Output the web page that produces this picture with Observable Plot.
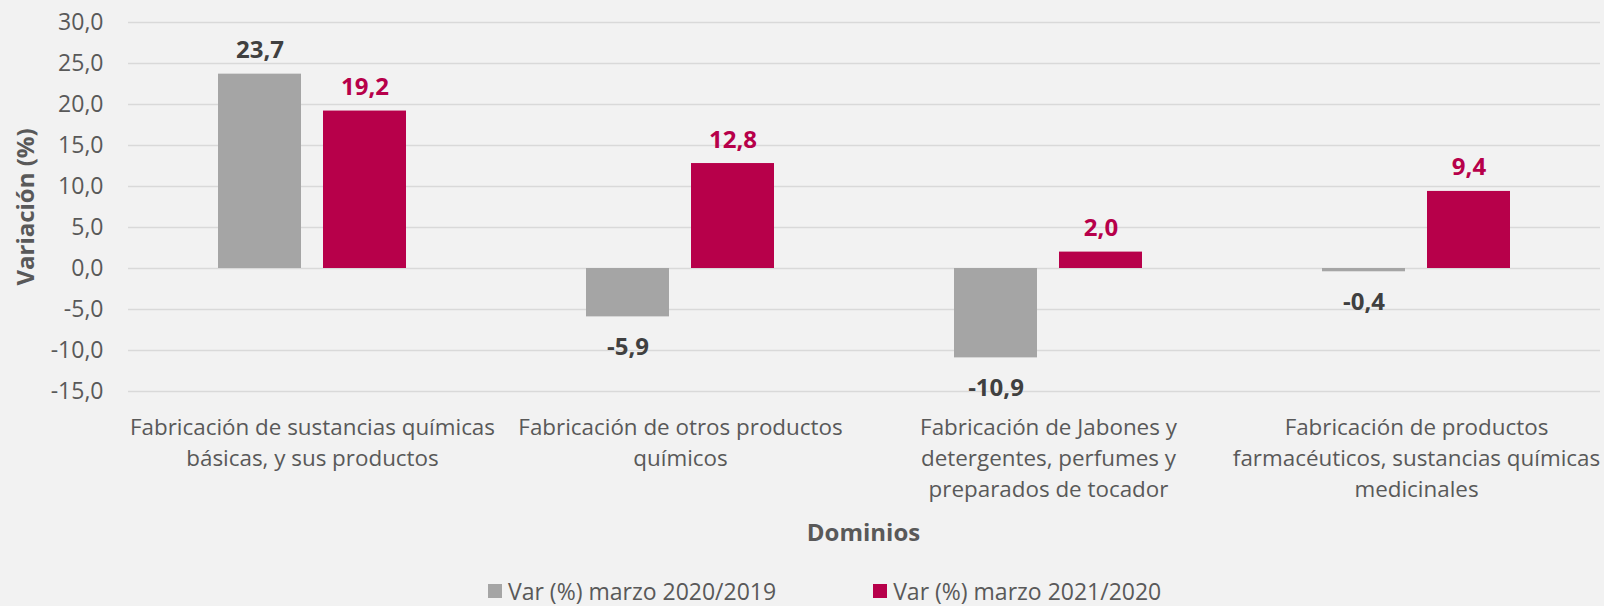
<!DOCTYPE html>
<html>
<head>
<meta charset="utf-8">
<script src="https://cdn.jsdelivr.net/npm/d3@7"></script>
<script src="https://cdn.jsdelivr.net/npm/@observablehq/plot@0.6"></script>
<style>
  html, body { margin: 0; padding: 0; background: #F2F2F2; }
  #wrap { position: relative; width: 1604px; height: 606px; overflow: hidden; font-family: "Open Sans", sans-serif; }
  #legend { position: absolute; left: 488px; top: 573px; height: 36px; display: flex; align-items: center; font-size: 23px; color: #595959; line-height: 36px; white-space: nowrap; }
  .item { display: flex; align-items: center; }
  .sw { width: 14px; height: 14px; margin-right: 6px; }
</style>
</head>
<body>
<div id="wrap">
  <div id="chart"></div>
  <div id="legend"></div>
</div>
<script>
const categories = [
  "Fabricación de sustancias químicas básicas, y sus productos",
  "Fabricación de otros productos químicos",
  "Fabricación de Jabones y detergentes, perfumes y preparados de tocador",
  "Fabricación de productos farmacéuticos, sustancias químicas medicinales"
];
const categoryTickLabels = [
  "Fabricación de sustancias químicas\nbásicas, y sus productos",
  "Fabricación de otros productos\nquímicos",
  "Fabricación de Jabones y\ndetergentes, perfumes y\npreparados de tocador",
  "Fabricación de productos\nfarmacéuticos, sustancias químicas\nmedicinales"
];
const series = ["Var (%) marzo 2020/2019", "Var (%) marzo 2021/2020"];
const values2020 = [23.7, -5.9, -10.9, -0.4];
const values2021 = [19.2, 12.8, 2.0, 9.4];
const yTicks = [-15, -10, -5, 0, 5, 10, 15, 20, 25, 30];
const seriesColors = ["#A5A5A5", "#B7004A"];
const labelColors = ["#404040", "#B7004A"];
const yTitle = "Variación (%)";
const xTitle = "Dominios";

const data = [];
categories.forEach((c, i) => {
  data.push({cat: c, series: series[0], value: values2020[i]});
  data.push({cat: c, series: series[1], value: values2021[i]});
});

const loc = d3.formatLocale({decimal: ",", thousands: ".", grouping: [3], currency: ["", "€"], minus: "-"});
const fmt = loc.format(".1f");
const tickLabelOf = new Map(categories.map((c, i) => [c, categoryTickLabels[i]]));

const W = 1604, H = 572;
const labelMarks = [];
series.forEach((s, k) => {
  labelMarks.push(Plot.text(data, {
    filter: d => d.series === s && d.value >= 0,
    fx: "cat", x: "series", y: "value", text: d => fmt(d.value),
    lineAnchor: "bottom", dy: -16, fill: labelColors[k],
    fontSize: 24, fontWeight: "bold"
  }));
  labelMarks.push(Plot.text(data, {
    filter: d => d.series === s && d.value < 0,
    fx: "cat", x: "series", y: "value", text: d => fmt(d.value),
    lineAnchor: "top", dy: 21, fill: labelColors[k],
    fontSize: 24, fontWeight: "bold"
  }));
});

const chart = Plot.plot({
  width: W,
  height: H,
  marginTop: 22,
  marginBottom: H - 391,
  marginLeft: 127,
  marginRight: 4,
  style: {fontFamily: "Open Sans, sans-serif", fontSize: "23px", background: "#F2F2F2", color: "#595959", overflow: "visible"},
  fx: {domain: categories, paddingInner: 0, paddingOuter: 0},
  x: {domain: series, paddingInner: 0.2095, paddingOuter: 0.857, axis: null},
  y: {domain: [-15, 30], axis: null},
  color: {domain: series, range: seriesColors},
  marks: [
    Plot.gridY(yTicks, {stroke: "#D9D9D9", strokeOpacity: 1, strokeWidth: 1.5}),
    Plot.axisY(yTicks, {tickSize: 0, tickPadding: 25, tickFormat: fmt, fontSize: 23, label: null, fill: "#595959"}),
    Plot.axisFx({anchor: "bottom", tickSize: 0, tickPadding: 21, lineHeight: 1.4, fontSize: 22.4, label: null,
                 tickFormat: c => tickLabelOf.get(c), fill: "#595959"}),
    Plot.barY(data, {fx: "cat", x: "series", y: "value", fill: "series"}),
    ...labelMarks
  ]
});
document.getElementById("chart").appendChild(chart);

const svg = d3.select(chart);
svg.append("text")
  .attr("transform", "translate(26,207) rotate(-90)")
  .attr("text-anchor", "middle")
  .attr("dy", "0.35em")
  .attr("fill", "#595959")
  .attr("font-size", 24)
  .attr("font-weight", "bold")
  .text(yTitle);
svg.append("text")
  .attr("x", 863.5)
  .attr("y", 541)
  .attr("text-anchor", "middle")
  .attr("fill", "#595959")
  .attr("font-size", 24)
  .attr("font-weight", "bold")
  .text(xTitle);

const legend = d3.select("#legend");
series.forEach((s, k) => {
  const it = legend.append("div").attr("class", "item").style("margin-right", k === 0 ? "97px" : "0px");
  it.append("div").attr("class", "sw").style("background", seriesColors[k]);
  it.append("span").text(s);
});
</script>
</body>
</html>
